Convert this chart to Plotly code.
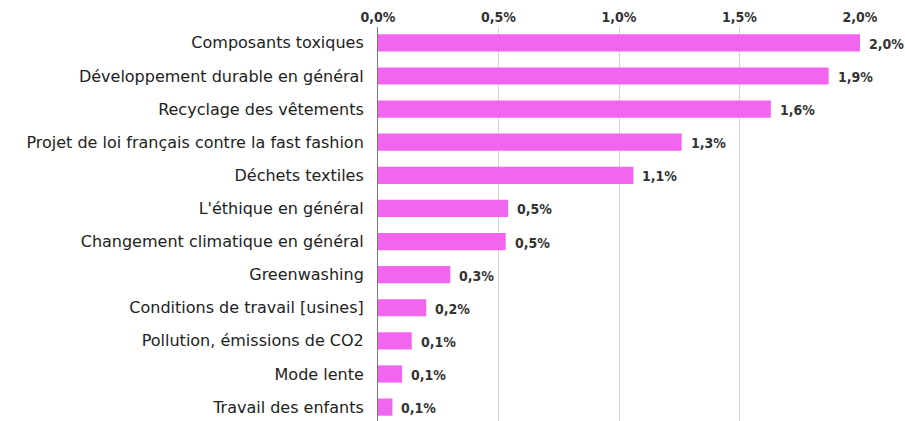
import plotly.graph_objects as go

categories = [
    "Composants toxiques",
    "Développement durable en général",
    "Recyclage des vêtements",
    "Projet de loi français contre la fast fashion",
    "Déchets textiles",
    "L'éthique en général",
    "Changement climatique en général",
    "Greenwashing",
    "Conditions de travail [usines]",
    "Pollution, émissions de CO2",
    "Mode lente",
    "Travail des enfants",
]
values = [2.0, 1.87, 1.63, 1.26, 1.06, 0.54, 0.53, 0.30, 0.20, 0.14, 0.10, 0.06]
value_labels = ["2,0%", "1,9%", "1,6%", "1,3%", "1,1%", "0,5%", "0,5%", "0,3%", "0,2%", "0,1%", "0,1%", "0,1%"]
tick_values = [0, 0.5, 1.0, 1.5, 2.0]
tick_labels = ["0,0%", "0,5%", "1,0%", "1,5%", "2,0%"]

fig = go.Figure(go.Bar(
    x=values,
    y=categories,
    orientation="h",
    marker=dict(color="#F265EF", line=dict(width=0)),
    width=0.52,
    hoverinfo="skip",
))

for v, c, t in zip(values, categories, value_labels):
    fig.add_annotation(
        x=v, y=c, text=t, showarrow=False,
        xanchor="left", xshift=7, yshift=-1,
        font=dict(size=14, color="#333333", family="DejaVu Sans Condensed", weight="bold"),
    )

fig.update_layout(
    width=905, height=421,
    margin=dict(l=378, r=45, t=27, b=0),
    paper_bgcolor="white",
    plot_bgcolor="white",
    showlegend=False,
    font=dict(family="DejaVu Sans", color="#333333"),
    xaxis=dict(
        side="top",
        range=[0, 2.0],
        tickvals=tick_values,
        ticktext=tick_labels,
        showgrid=True,
        gridcolor="#D4D4D4",
        gridwidth=1,
        zeroline=False,
        showline=False,
        tickfont=dict(size=14, color="#333333", family="DejaVu Sans Condensed", weight="bold"),
        ticks="",
        ticklabelstandoff=1,
    ),
    yaxis=dict(
        categoryorder="array",
        categoryarray=categories,
        range=[11.42, -0.48],
        showgrid=False,
        zeroline=False,
        showline=True,
        linecolor="#777777",
        linewidth=1,
        ticks="",
        ticklabelstandoff=10,
        tickfont=dict(size=16, color="#222222", family="DejaVu Sans"),
    ),
)

fig.write_html("out.html")
